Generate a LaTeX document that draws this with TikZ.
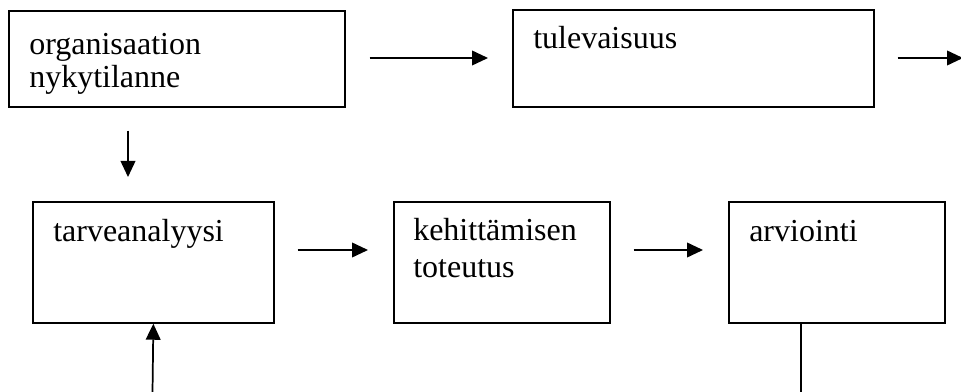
\documentclass[tikz,border=0pt]{standalone}
\usepackage{fontspec}
\setmainfont{Liberation Serif}
\usetikzlibrary{arrows.meta}
\begin{document}
\begin{tikzpicture}[x=0.75pt,y=-0.75pt,
  box/.style={draw,line width=1.3pt,inner sep=0,anchor=north west},
  lbl/.style={anchor=base west,inner sep=0,font=\fontsize{24pt}{26pt}\selectfont},
  arr/.style={line width=1.3pt,-{Triangle[length=12pt,width=11pt]}},
  ln/.style={line width=1.3pt}]
\useasboundingbox (0,0) rectangle (961,392);
% boxes
\node[box,minimum width=252pt,minimum height=72pt] (b1) at (8,10) {};
\node[box,minimum width=270.75pt,minimum height=72.5pt] (b2) at (512,9.5) {};
\node[box,minimum width=180.75pt,minimum height=90.75pt] (b3) at (32,201) {};
\node[box,minimum width=162pt,minimum height=90.75pt] (b4) at (393,201) {};
\node[box,minimum width=162pt,minimum height=90.75pt] (b5) at (728,201) {};
% texts
\node[lbl] (t1a) at (29,55) {organisaation};
\node[lbl] (t1b) at (29,88) {nykytilanne};
\node[lbl] (t2) at (533,49) {tulevaisuus};
\node[lbl] (t3) at (53,242) {tarveanalyysi};
\node[lbl] (t4a) at (413,241) {kehittämisen};
\node[lbl] (t4b) at (413,277) {toteutus};
\node[lbl] (t5) at (749,242) {arviointi};
% free ends
\coordinate (out1) at (963,58);
\coordinate (in1) at (152.5,393);
\coordinate (out2) at (801,393);
% connectors
\draw[arr,shorten <=18pt,shorten >=18pt] (b1.east |- 0,58) -- (b2.west |- 0,58);
\draw[arr,shorten <=17.25pt] (b2.east |- out1) -- (out1);
\draw[arr,shorten <=17.25pt,shorten >=18pt] (b1.south -| 128,0) -- (b3.north -| 128,0);
\draw[arr,shorten <=17.25pt,shorten >=18.75pt] (b3.east |- 0,250) -- (b4.west |- 0,250);
\draw[arr,shorten <=17.25pt,shorten >=18.75pt] (b4.east |- 0,250) -- (b5.west |- 0,250);
\draw[arr] (in1) -- (b3.south);
\draw[ln] (b5.south -| out2) -- (out2);
\end{tikzpicture}
\end{document}
